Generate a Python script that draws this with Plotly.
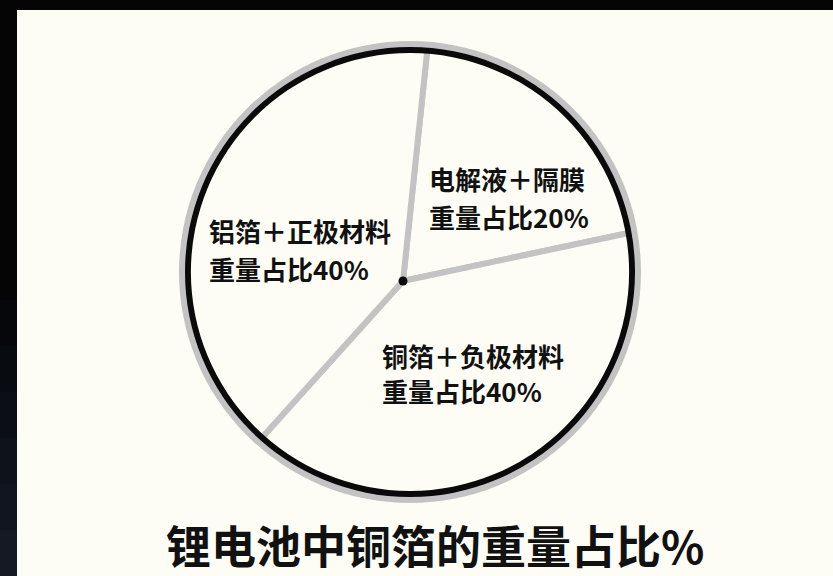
import plotly.graph_objects as go

W, H = 833, 576

# ---- data ----
labels = ["电解液＋隔膜", "铜箔＋负极材料", "铝箔＋正极材料"]
values = [20, 40, 40]
value_prefix = "重量占比"
title_text = "锂电池中铜箔的重量占比%"

# ---- styling / geometry (pixels) ----
panel = "#fdfdf5"
gray = "#c3c3c3"
ink = "#111111"
c1 = (403, 281)      # centre of the slice dividers
c2 = (410, 272)      # centre of the outer ring
R_main = 238
R_black = 225
ring_w = 6
halo_w = 6
R_mask = 262
# label placement (left x, first-line y, second-line y) in pixels
label_pos = [(427, 179, 216), (380, 355, 390), (207, 230, 268)]
label_size = 26


def dom(c, r):
    cx, cy = c
    cyb = H - cy
    return dict(x=[(cx - r) / W, (cx + r) / W], y=[(cyb - r) / H, (cyb + r) / H])


fig = go.Figure()

# main pie with gray dividers
fig.add_trace(go.Pie(
    labels=labels, values=values, sort=False, direction="clockwise", rotation=6,
    domain=dom(c1, R_main),
    marker=dict(colors=[panel] * 3, line=dict(color=gray, width=6)),
    textinfo="none", hoverinfo="skip", showlegend=False,
))

# mask outside ring
fig.add_trace(go.Pie(
    values=[1], domain=dom(c2, R_mask), hole=(R_black + halo_w - 1) / R_mask,
    marker=dict(colors=[panel], line=dict(width=0)), textinfo="none",
    hoverinfo="skip", showlegend=False, sort=False,
))
# gray halo
fig.add_trace(go.Pie(
    values=[1], domain=dom(c2, R_black + halo_w), hole=(R_black - 1) / (R_black + halo_w),
    marker=dict(colors=[gray], line=dict(width=0)), textinfo="none",
    hoverinfo="skip", showlegend=False, sort=False,
))
# black ring
fig.add_trace(go.Pie(
    values=[1], domain=dom(c2, R_black), hole=(R_black - ring_w) / R_black,
    marker=dict(colors=["#0a0a0a"], line=dict(width=0)), textinfo="none",
    hoverinfo="skip", showlegend=False, sort=False,
))
# centre dot
fig.add_trace(go.Pie(
    values=[1], domain=dom(c1, 4.5),
    marker=dict(colors=["#0a0a0a"], line=dict(width=0)), textinfo="none",
    hoverinfo="skip", showlegend=False, sort=False,
))

shapes = [dict(type="rect", xref="paper", yref="paper", x0=17 / W, x1=1, y0=0, y1=1 - 10 / H,
               fillcolor=panel, line=dict(width=0), layer="below")]
# subtle dark-navy gradient on the left strip
grad = ["#05070a", "#080b10", "#0b0e15", "#0e121a", "#11151f", "#141924"]
for i, col in enumerate(grad):
    y_top = 300 + i * 46
    shapes.append(dict(type="rect", xref="paper", yref="paper", x0=0, x1=17 / W,
                       y0=max(0, 1 - (y_top + 46) / H), y1=1 - y_top / H,
                       fillcolor=col, line=dict(width=0), layer="below"))

label_font = dict(family="Noto Sans CJK SC", size=label_size, color=ink, weight="bold")
annotations = []
for lab, val, (lx, y1, y2) in zip(labels, values, label_pos):
    for txt, yy in ((lab, y1), (f"{value_prefix}{val}%", y2)):
        annotations.append(dict(text=txt, x=lx / W, y=1 - yy / H, xref="paper", yref="paper",
                                showarrow=False, xanchor="left", yanchor="middle",
                                font=label_font))
annotations.append(dict(text=title_text, x=435 / W, y=1 - 544 / H, xref="paper", yref="paper",
                        showarrow=False, xanchor="center", yanchor="middle",
                        font=dict(family="Noto Sans CJK SC", size=45, color=ink, weight="bold")))

fig.update_layout(
    width=W, height=H, margin=dict(l=0, r=0, t=0, b=0),
    paper_bgcolor="#050505", plot_bgcolor="#050505",
    shapes=shapes, annotations=annotations,
)

fig.write_html("out.html", post_script="document.body.style.margin='0';",
               config={"displayModeBar": False})
